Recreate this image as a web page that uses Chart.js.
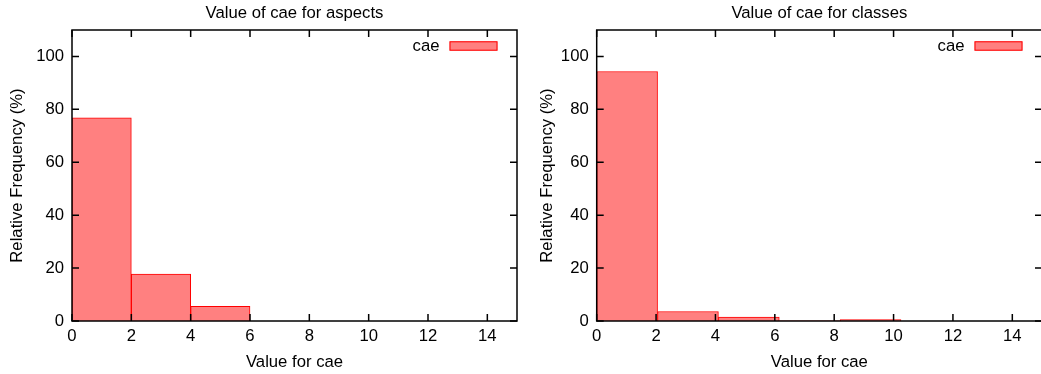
<!DOCTYPE html>
<html>
<head>
<meta charset="utf-8">
<script src="https://cdn.jsdelivr.net/npm/chart.js@4"></script>
<style>
  html, body { margin: 0; padding: 0; background: #fff; overflow: hidden; }
  #wrap { position: relative; width: 1041px; height: 374px; overflow: hidden; }
  canvas { position: absolute; top: 0; }
  #c-aspects { left: 0; }
  #c-classes { left: 520px; }
</style>
</head>
<body>
<div id="wrap">
  <canvas id="c-aspects" width="520" height="374"></canvas>
  <canvas id="c-classes" width="525" height="374"></canvas>
</div>
<script>
// ── Data ──────────────────────────────────────────────────────────────────────
const seriesLabel = 'cae';

// bin centres (value for cae) and relative frequency (%)
const aspectsBins = [1, 3, 5];
const aspectsFreq = [76.8, 17.7, 5.5];

const classesBins = [1.025, 3.075, 5.125, 7.175, 9.225];
const classesFreq = [94.3, 3.6, 1.5, 0.1, 0.5];

const xTicks = [0, 2, 4, 6, 8, 10, 12, 14];
const yTicks = [0, 20, 40, 60, 80, 100];

// ── Style ─────────────────────────────────────────────────────────────────────
const FONT = "'Liberation Sans', Arial, Helvetica, sans-serif";
const FONT_SIZE = 16.7;
const FILL = 'rgb(255,128,128)';
const EDGE = '#ff0000';
const TICK_LEN = 7;

Chart.defaults.font.family = FONT;
Chart.defaults.font.size = FONT_SIZE;
Chart.defaults.color = '#000';

// frame on all four sides + gnuplot style inward ticks (mirrored)
const framePlugin = {
  id: 'frame',
  afterDatasetsDraw(chart) {
    const { ctx, chartArea: a, scales: { x, y } } = chart;
    ctx.save();
    ctx.strokeStyle = '#000';
    ctx.lineWidth = 1.5;
    ctx.beginPath();
    x.ticks.forEach(t => {
      const px = x.getPixelForValue(t.value);
      ctx.moveTo(px, a.bottom); ctx.lineTo(px, a.bottom - TICK_LEN);
      ctx.moveTo(px, a.top);    ctx.lineTo(px, a.top + TICK_LEN);
    });
    y.ticks.forEach(t => {
      const py = y.getPixelForValue(t.value);
      ctx.moveTo(a.left, py);  ctx.lineTo(a.left + TICK_LEN, py);
      ctx.moveTo(a.right, py); ctx.lineTo(a.right - TICK_LEN, py);
    });
    ctx.stroke();
    ctx.strokeRect(a.left, a.top, a.right - a.left, a.bottom - a.top);
    ctx.restore();
  }
};

// key in the top right corner: text, then sample box
const keyPlugin = {
  id: 'key',
  afterDraw(chart) {
    const { ctx, chartArea: a } = chart;
    const ds = chart.data.datasets[0];
    const bw = 48, bh = 9.4;
    const bx = a.right - 19.5 - bw;
    const by = a.top + 11.3;
    ctx.save();
    ctx.fillStyle = ds.backgroundColor;
    ctx.fillRect(bx, by, bw, bh);
    ctx.strokeStyle = ds.borderColor;
    ctx.lineWidth = 1;
    ctx.strokeRect(bx + 0.5, by + 0.5, bw - 1, bh - 1);
    ctx.fillStyle = '#000';
    ctx.font = FONT_SIZE + 'px ' + FONT;
    ctx.textAlign = 'right';
    ctx.textBaseline = 'middle';
    ctx.fillText(ds.label, bx - 10, by + bh / 2);
    ctx.restore();
  }
};

function makeChart(id, title, bins, freq, axisWidth, yTitlePad) {
  return new Chart(document.getElementById(id), {
    type: 'bar',
    data: {
      datasets: [{
        label: seriesLabel,
        data: bins.map((b, i) => ({ x: b, y: freq[i] })),
        backgroundColor: FILL,
        borderColor: EDGE,
        borderWidth: 1,
        barThickness: 'flex',
        barPercentage: 1,
        categoryPercentage: 1
      }]
    },
    options: {
      responsive: false,
      animation: false,
      layout: { padding: { left: 0, right: 3, top: 0, bottom: 0 } },
      plugins: {
        legend: { display: false },
        tooltip: { enabled: false },
        title: {
          display: true,
          text: title,
          fullSize: false,
          font: { size: FONT_SIZE, weight: 'normal' },
          padding: { top: 3.7, bottom: 6.26 }
        }
      },
      scales: {
        x: {
          type: 'linear',
          min: 0, max: 15,
          offset: false,
          grid: { display: false, drawTicks: false, offset: false },
          border: { display: false },
          ticks: { padding: 5.7, maxRotation: 0, autoSkip: false },
          afterBuildTicks: s => { s.ticks = xTicks.map(v => ({ value: v })); },
          afterFit: s => { s.height = 53; },
          title: { display: true, text: 'Value for cae', padding: { top: 0, bottom: 1.3 } }
        },
        y: {
          min: 0, max: 110,
          grid: { display: false, drawTicks: false },
          border: { display: false },
          ticks: { padding: 8 },
          afterBuildTicks: s => { s.ticks = yTicks.map(v => ({ value: v })); },
          afterFit: s => { s.width = axisWidth; },
          title: { display: true, text: 'Relative Frequency (%)', padding: { top: yTitlePad, bottom: 0 } }
        }
      }
    },
    plugins: [framePlugin, keyPlugin]
  });
}

makeChart('c-aspects', 'Value of cae for aspects', aspectsBins, aspectsFreq, 72, 7.0);
makeChart('c-classes', 'Value of cae for classes', classesBins, classesFreq, 76.7, 17.5);
</script>
</body>
</html>
